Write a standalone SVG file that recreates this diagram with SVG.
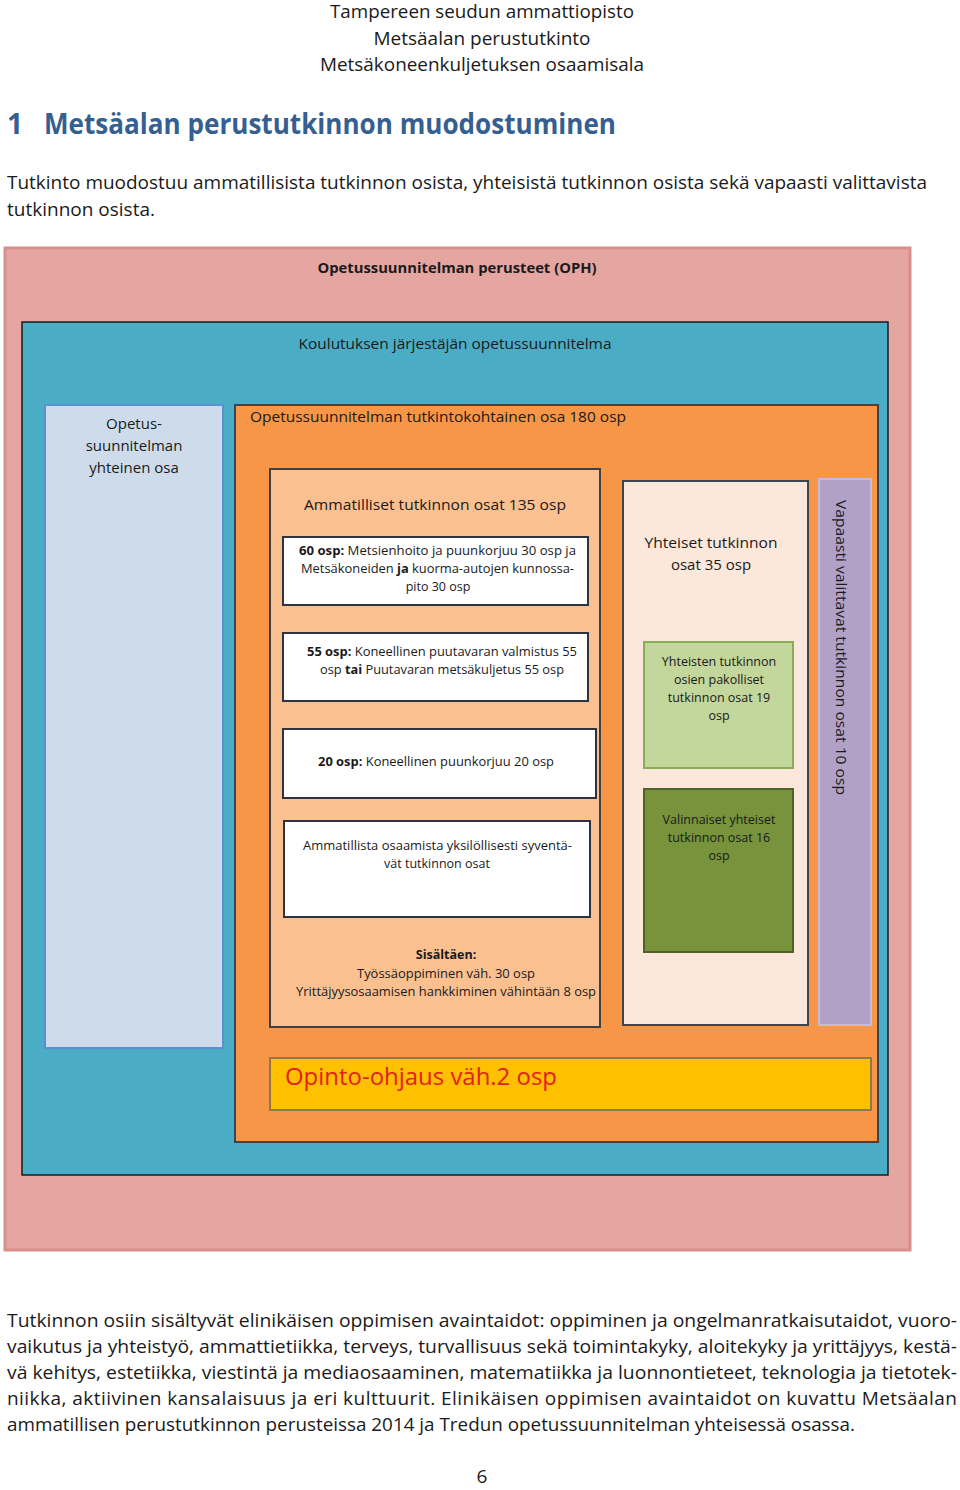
<svg xmlns="http://www.w3.org/2000/svg" width="960" height="1490" viewBox="0 0 960 1490">
<style>
text{font-family:"Open Sans","Noto Sans","Liberation Sans",sans-serif;fill:#1a1a1a}
.hd{font-size:19px}
.t16{font-size:15px}
.t13{font-size:12.5px}
.b{font-weight:bold}
.mid{text-anchor:middle}
.wbox{fill:#ffffff;stroke:#2b3440;stroke-width:2}
</style>
<rect width="960" height="1490" fill="#ffffff"/>
<g id="header">
<text class="hd mid" x="482" y="18" textLength="304" lengthAdjust="spacingAndGlyphs">Tampereen seudun ammattiopisto</text>
<text class="hd mid" x="482" y="45" textLength="217" lengthAdjust="spacingAndGlyphs">Metsäalan perustutkinto</text>
<text class="hd mid" x="482" y="71" textLength="324" lengthAdjust="spacingAndGlyphs">Metsäkoneenkuljetuksen osaamisala</text>
<text x="7" y="134" style="font-size:28px;font-weight:bold;fill:#365f91">1</text>
<text x="44" y="134" style="font-size:28px;font-weight:bold;fill:#365f91" textLength="572" lengthAdjust="spacingAndGlyphs">Metsäalan perustutkinnon muodostuminen</text>
<text class="hd" x="7" y="189" textLength="920" lengthAdjust="spacingAndGlyphs">Tutkinto muodostuu ammatillisista tutkinnon osista, yhteisistä tutkinnon osista sekä vapaasti valittavista</text>
<text class="hd" x="7" y="216" textLength="148" lengthAdjust="spacingAndGlyphs">tutkinnon osista.</text>
</g>
<g id="oph">
<rect x="5" y="248" width="905" height="1002" fill="#e5a5a1" stroke="#d88f8b" stroke-width="3"/>
<text class="t16 b mid" x="457" y="273" textLength="279" lengthAdjust="spacingAndGlyphs">Opetussuunnitelman perusteet (OPH)</text>
</g>
<g id="koulutus">
<rect x="22" y="322" width="866" height="853" fill="#4bacc6" stroke="#1a1a1a" stroke-width="1.5"/>
<text class="t16 mid" x="455" y="349" textLength="313" lengthAdjust="spacingAndGlyphs">Koulutuksen järjestäjän opetussuunnitelma</text>
</g>
<g id="yhteinen-osa">
<rect x="45" y="405" width="178" height="643" fill="#cddbeb" stroke="#5b8fd0" stroke-width="2"/>
<text class="t16 mid" x="134" y="429">Opetus-</text>
<text class="t16 mid" x="134" y="451">suunnitelman</text>
<text class="t16 mid" x="134" y="473">yhteinen osa</text>
</g>
<g id="tutkintokohtainen">
<rect x="235" y="405" width="643" height="737" fill="#f79646" stroke="#34465a" stroke-width="2"/>
<text class="t16" x="250" y="422" textLength="376" lengthAdjust="spacingAndGlyphs">Opetussuunnitelman tutkintokohtainen osa 180 osp</text>
</g>
<g id="ammatilliset">
<rect x="270" y="469" width="330" height="558" fill="#fac090" stroke="#404040" stroke-width="2"/>
<text class="t16 mid" x="435" y="510" textLength="262" lengthAdjust="spacingAndGlyphs">Ammatilliset tutkinnon osat 135 osp</text>
<text class="t13 b mid" x="446" y="959">Sisältäen:</text>
<text class="t13 mid" x="446" y="978" textLength="178" lengthAdjust="spacingAndGlyphs">Työssäoppiminen väh. 30 osp</text>
<text class="t13 mid" x="446" y="996" textLength="300" lengthAdjust="spacingAndGlyphs">Yrittäjyysosaamisen hankkiminen vähintään 8 osp</text>
</g>
<g id="osp60">
<rect class="wbox" x="283" y="537" width="305" height="68"/>
<text class="t13" x="299" y="555" textLength="277" lengthAdjust="spacingAndGlyphs"><tspan class="b">60 osp:</tspan> Metsienhoito ja puunkorjuu 30 osp  ja</text>
<text class="t13" x="301" y="573" textLength="273" lengthAdjust="spacingAndGlyphs">Metsäkoneiden <tspan class="b">ja</tspan> kuorma-autojen kunnossa-</text>
<text class="t13 mid" x="438" y="591">pito 30 osp</text>
</g>
<g id="osp55">
<rect class="wbox" x="283" y="633" width="305" height="68"/>
<text class="t13" x="307" y="656" textLength="270" lengthAdjust="spacingAndGlyphs"><tspan class="b">55 osp:</tspan> Koneellinen puutavaran valmistus 55</text>
<text class="t13" x="320" y="674" textLength="244" lengthAdjust="spacingAndGlyphs">osp <tspan class="b">tai</tspan> Puutavaran metsäkuljetus 55 osp</text>
</g>
<g id="osp20">
<rect class="wbox" x="283" y="729" width="313" height="69"/>
<text class="t13" x="318" y="766" textLength="236" lengthAdjust="spacingAndGlyphs"><tspan class="b">20 osp:</tspan> Koneellinen puunkorjuu 20 osp</text>
</g>
<g id="syventavat">
<rect class="wbox" x="284" y="821" width="306" height="96"/>
<text class="t13" x="303" y="850" textLength="269" lengthAdjust="spacingAndGlyphs">Ammatillista osaamista yksilöllisesti syventä-</text>
<text class="t13 mid" x="437" y="868">vät tutkinnon osat</text>
</g>
<g id="yhteiset">
<rect x="623" y="481" width="185" height="544" fill="#fbe8da" stroke="#3c4652" stroke-width="2"/>
<text class="t16 mid" x="711" y="548" textLength="133" lengthAdjust="spacingAndGlyphs">Yhteiset tutkinnon</text>
<text class="t16 mid" x="711" y="570">osat 35 osp</text>
</g>
<g id="pakolliset">
<rect x="644" y="642" width="149" height="126" fill="#c3d69b" stroke="#8aab58" stroke-width="2"/>
<text class="t13 mid" x="719" y="666">Yhteisten tutkinnon</text>
<text class="t13 mid" x="719" y="684">osien pakolliset</text>
<text class="t13 mid" x="719" y="702">tutkinnon osat 19</text>
<text class="t13 mid" x="719" y="720">osp</text>
</g>
<g id="valinnaiset">
<rect x="644" y="789" width="149" height="163" fill="#77933c" stroke="#4f6228" stroke-width="2"/>
<text class="t13 mid" x="719" y="824">Valinnaiset yhteiset</text>
<text class="t13 mid" x="719" y="842">tutkinnon osat 16</text>
<text class="t13 mid" x="719" y="860">osp</text>
</g>
<g id="vapaasti">
<rect x="819" y="479" width="52" height="546" fill="#b2a1c7" stroke="#c8bbd9" stroke-width="2"/>
<text class="t16" transform="translate(836 500) rotate(90)" textLength="295" lengthAdjust="spacingAndGlyphs">Vapaasti valittavat tutkinnon osat 10 osp</text>
</g>
<g id="opinto-ohjaus">
<rect x="270" y="1058" width="601" height="52" fill="#ffc000" stroke="#8f7a45" stroke-width="2"/>
<text x="285" y="1085" style="font-size:23px;fill:#e3211c" textLength="272" lengthAdjust="spacingAndGlyphs">Opinto-ohjaus väh.2 osp</text>
</g>
<g id="connectors"></g>
<g id="footer">
<text class="hd" x="7" y="1327" textLength="950" lengthAdjust="spacingAndGlyphs">Tutkinnon osiin sisältyvät elinikäisen oppimisen avaintaidot: oppiminen ja ongelmanratkaisutaidot, vuoro-</text>
<text class="hd" x="7" y="1353" textLength="950" lengthAdjust="spacingAndGlyphs">vaikutus ja yhteistyö, ammattietiikka, terveys, turvallisuus sekä toimintakyky, aloitekyky ja yrittäjyys, kestä-</text>
<text class="hd" x="7" y="1379" textLength="950" lengthAdjust="spacingAndGlyphs">vä kehitys, estetiikka, viestintä ja mediaosaaminen, matematiikka ja luonnontieteet, teknologia ja tietotek-</text>
<text class="hd" x="7" y="1405" textLength="950" lengthAdjust="spacing">niikka, aktiivinen kansalaisuus ja eri kulttuurit. Elinikäisen oppimisen avaintaidot on kuvattu Metsäalan</text>
<text class="hd" x="7" y="1431" textLength="848" lengthAdjust="spacingAndGlyphs">ammatillisen perustutkinnon perusteissa 2014 ja Tredun opetussuunnitelman yhteisessä osassa.</text>
<text class="hd mid" x="482" y="1483">6</text>
</g>
</svg>
